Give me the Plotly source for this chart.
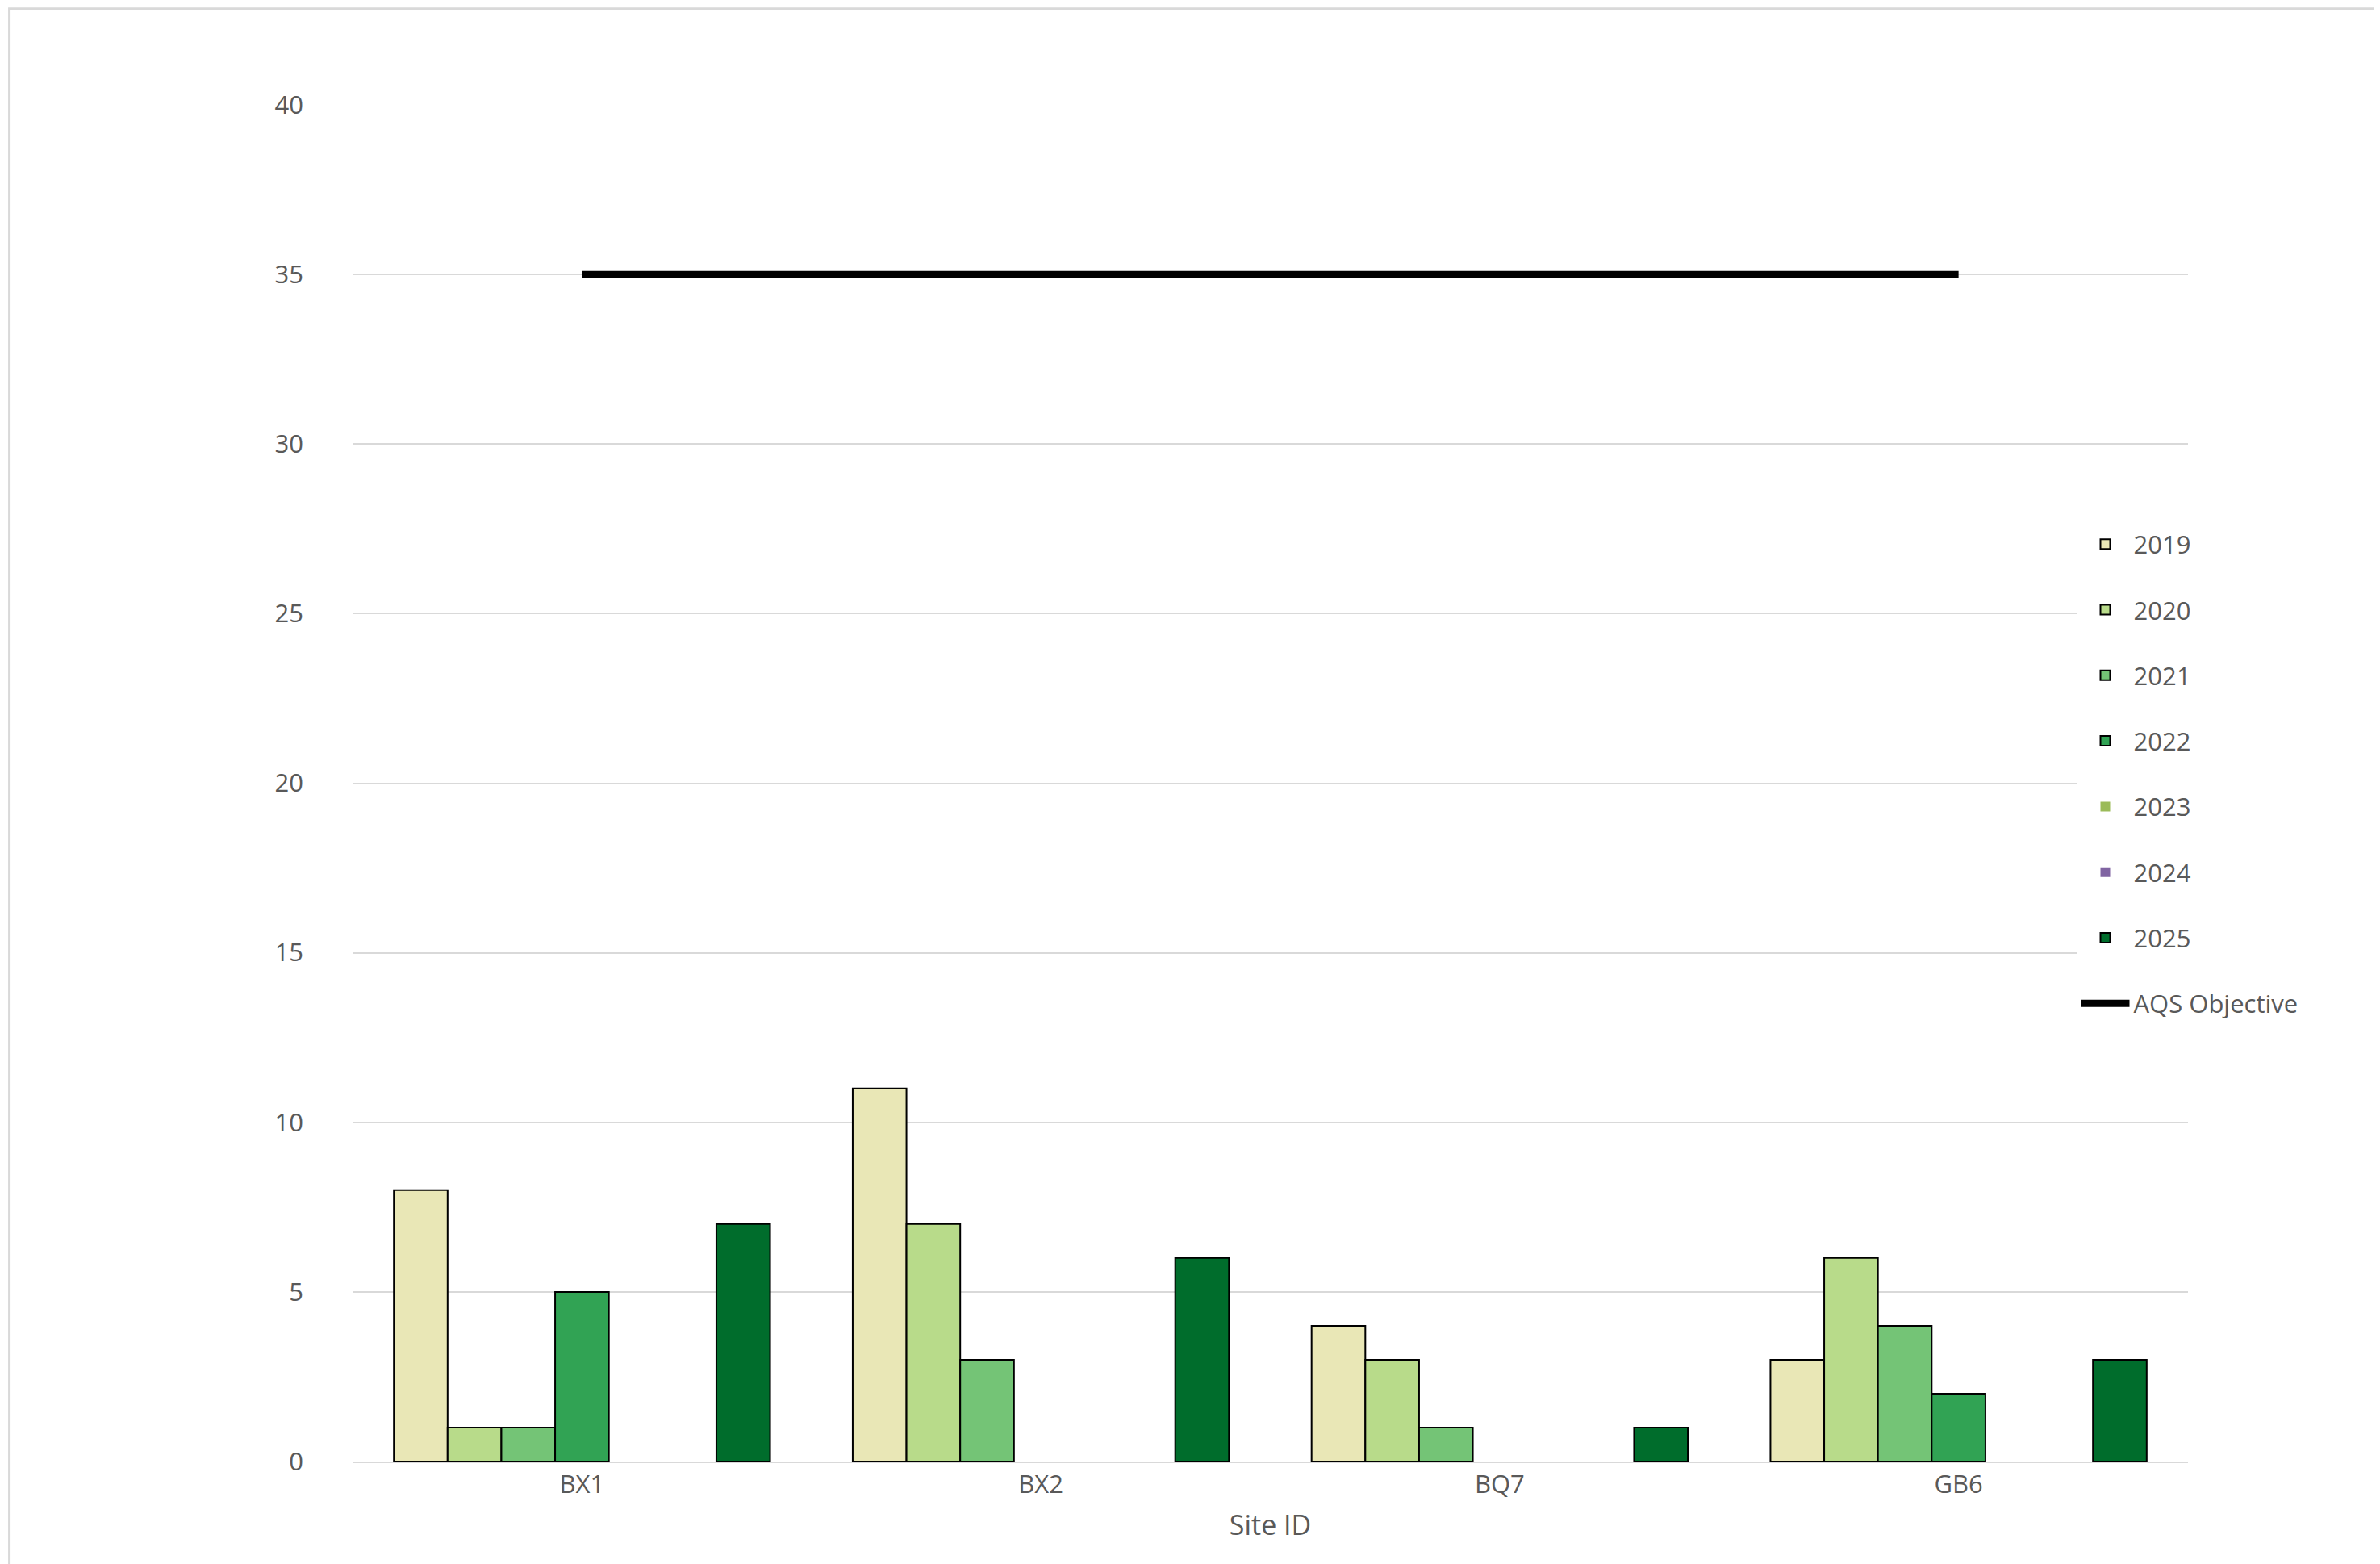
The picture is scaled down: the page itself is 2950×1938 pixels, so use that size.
import plotly.graph_objects as go

sites = ["BX1", "BX2", "BQ7", "GB6"]
years = ["2019", "2020", "2021", "2022", "2023", "2024", "2025"]
values = {
    "2019": [8, 11, 4, 3],
    "2020": [1, 7, 3, 6],
    "2021": [1, 3, 1, 4],
    "2022": [5, None, None, 2],
    "2023": [None, None, None, None],
    "2024": [None, None, None, None],
    "2025": [7, 6, 1, 3],
}
colors = {
    "2019": "#E9E7B6", "2020": "#B8DB8A", "2021": "#74C476", "2022": "#31A354",
    "2023": "#9BBB59", "2024": "#8064A2", "2025": "#006D2C",
}
objective = [35, 35, 35, 35]

fig = go.Figure()
for y in years:
    nolines = y in ("2023", "2024")
    fig.add_trace(go.Bar(
        x=sites, y=values[y], name=y, marker_color=colors[y], legendgroup=y,
        marker_line=dict(color="black", width=0 if nolines else 2),
    ))
fig.add_trace(go.Scatter(x=sites, y=objective, mode="lines", name="AQS Objective",
                         legendgroup="aqs", line=dict(color="black", width=9)))

fig.update_layout(
    width=2950, height=1938, barmode="group", bargap=0.18, bargroupgap=0,
    plot_bgcolor="white", paper_bgcolor="white",
    margin=dict(l=429, r=246, t=122, b=135, autoexpand=False),
    font=dict(family="Open Sans, Liberation Sans", size=31, color="#595959"),
    xaxis=dict(title=dict(text="Site ID", font=dict(size=34, color="#595959"), standoff=20),
               showline=True, linecolor="#D9D9D9", linewidth=2, ticks=""),
    yaxis=dict(range=[0, 40], dtick=5, gridcolor="#D9D9D9", gridwidth=2,
               zeroline=False, ticklabelstandoff=60),
    legend=dict(xref="container", yref="container", x=0.87, y=0.67,
                xanchor="left", yanchor="top", tracegroupgap=38,
                font=dict(size=31, color="#595959"), itemwidth=60),
    shapes=[dict(type="rect", xref="paper", yref="paper", x0=-0.187, x1=1.105,
                 y0=-0.078, y1=1.071, line=dict(color="#D9D9D9", width=3))],
)
fig.write_html("out.html")
